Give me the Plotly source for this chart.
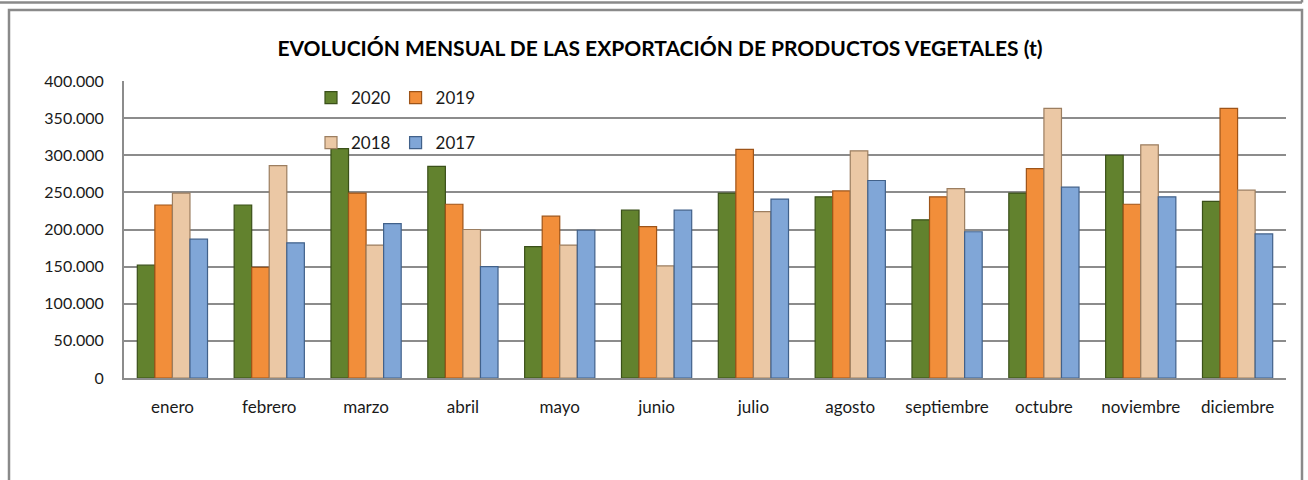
import plotly.graph_objects as go

months = ["enero", "febrero", "marzo", "abril", "mayo", "junio", "julio",
          "agosto", "septiembre", "octubre", "noviembre", "diciembre"]
years = ["2020", "2019", "2018", "2017"]

v2020 = [152000, 233000, 309000, 285000, 177000, 226000, 249000, 244000, 213000, 249000, 300000, 238000]
v2019 = [233000, 149000, 249000, 234000, 218000, 204000, 308000, 252000, 244000, 282000, 234000, 363000]
v2018 = [249000, 286000, 179000, 200000, 179000, 151000, 224000, 306000, 255000, 363000, 314000, 253000]
v2017 = [187000, 182000, 208000, 150000, 199000, 226000, 241000, 266000, 197000, 257000, 244000, 194000]

series = [v2020, v2019, v2018, v2017]
colors = ["#62822E", "#F28E3A", "#EBC8A5", "#80A6D7"]
edges = ["#3A5019", "#9E5418", "#9C7E60", "#41618A"]
legends = ["legend", "legend", "legend2", "legend2"]

W, H = 1308, 480
L, R, T, B = 124, 1286, 81, 378  # plot area pixel edges
pw, ph = R - L, B - T

def px(x):
    return (x - L) / pw

def py(y):
    return (B - y) / ph

FONT = "Lato"
TXT = "#1a1a1a"

fig = go.Figure()
for name, vals, c, e, lg in zip(years, series, colors, edges, legends):
    fig.add_trace(go.Bar(
        x=months, y=vals, name=name, legend=lg,
        marker=dict(color=c, line=dict(color=e, width=1.2)),
    ))

grid_col = "#8C8C8C"
leg_common = dict(
    orientation="h", xanchor="left", yanchor="top",
    bgcolor="rgba(0,0,0,0)", font=dict(size=17, color=TXT),
    itemwidth=30, entrywidth=0, entrywidthmode="pixels",
    traceorder="normal",
)
fig.update_layout(
    width=W, height=H,
    margin=dict(l=L, r=W - R, t=T, b=H - B, pad=0),
    paper_bgcolor="white", plot_bgcolor="white",
    barmode="group", bargap=0.275, bargroupgap=0,
    separators=",.",
    font=dict(family=FONT, size=16, color=TXT),
    title=dict(
        text="<b>EVOLUCIÓN MENSUAL DE LAS EXPORTACIÓN DE PRODUCTOS VEGETALES (t)</b>",
        x=660 / W, xanchor="center", xref="container",
        y=1 - 49 / H, yanchor="middle", yref="container",
        font=dict(family=FONT, size=21, color="#000000"),
    ),
    xaxis=dict(
        showgrid=False, showline=True, linecolor=grid_col, linewidth=2,
        ticks="", tickfont=dict(size=17, color=TXT), ticklabelstandoff=13,
    ),
    yaxis=dict(
        range=[0, 400000], dtick=50000, tickformat=",d",
        showgrid=True, gridcolor=grid_col, gridwidth=2,
        showline=True, linecolor=grid_col, linewidth=2,
        zeroline=False, ticks="", tickfont=dict(size=16, color=TXT),
        ticklabelstandoff=15,
    ),
    legend=dict(x=px(311), y=py(80), **leg_common),
    legend2=dict(x=px(311), y=py(125), **leg_common),
    showlegend=True,
)

frame_col = "#8A8A8A"
shapes = [
    # outer chart frame
    dict(type="rect", xref="paper", yref="paper",
         x0=px(9), x1=px(1302), y0=py(10), y1=py(490),
         line=dict(color=frame_col, width=2.5), fillcolor="rgba(0,0,0,0)", layer="above"),
    # bottom edge of the box above
    dict(type="line", xref="paper", yref="paper",
         x0=px(-5), x1=px(1302), y0=py(2.5), y1=py(2.5),
         line=dict(color=frame_col, width=2.5)),
    dict(type="line", xref="paper", yref="paper",
         x0=px(1302), x1=px(1302), y0=py(-5), y1=py(2.5),
         line=dict(color=frame_col, width=2.5)),
]
fig.update_layout(shapes=shapes)

fig.write_html("out.html")
